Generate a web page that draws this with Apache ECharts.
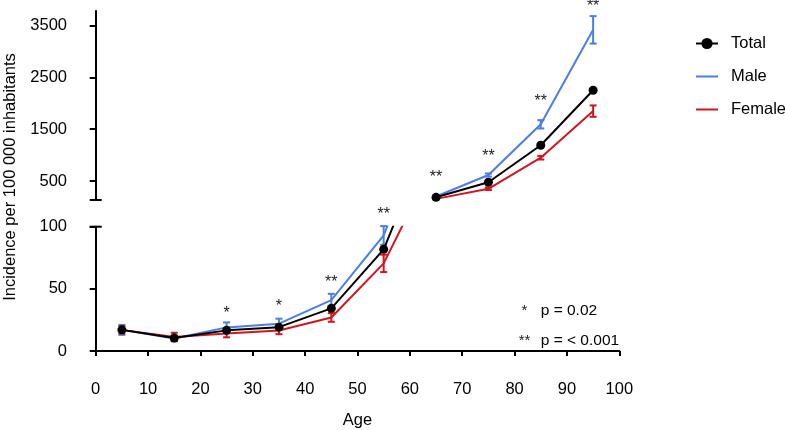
<!DOCTYPE html>
<html><head><meta charset="utf-8">
<script src="https://cdn.jsdelivr.net/npm/echarts@6/dist/echarts.min.js"></script>
<style>html,body{margin:0;padding:0;background:#fff}#c{width:785px;height:430px}</style>
</head><body><div id="c"></div>
<script>
// ---- data ----
const ages = [5, 15, 25, 35, 45, 55, 65, 75, 85, 95];
const totalVals = [17, 10.5, 16.6, 19.2, 34.3, 81.8, 185, 475, 1190, 2252];
const maleVals = [17, 10, 19, 22, 41, 93, 200, 616, 1595, 3420];
const maleErr = [4, 2, 4, 4, 5, 7.5, 15, 30, 80, 265];
const femaleVals = [17, 11.3, 14, 16.5, 27, 70.5, 155, 350, 950, 1850];
const femaleErr = [3, 3.4, 3, 3, 3.5, 7, 12, 25, 35, 110];
const stars = ['', '', '*', '*', '**', '**', '**', '**', '**', '**'];
const starLevel = [null, null, 30, 36, 55, 110, 560, 965, 2025, 3860];
const upperTicks = [500, 1500, 2500, 3500];
const lowerRange = [0, 100];
const upperRange = [133, 3784];
const xRange = [0, 100];
const legendNames = ['Total', 'Male', 'Female'];
const pNotes = [['*', 'p = 0.02'], ['**', 'p = < 0.001']];

// ---- style ----
const FONT = "'Liberation Sans', Arial, sans-serif";
const FS = 16.5;
const BLUE = '#4a7ee8', RED = '#d3151c', BLACK = '#000';

const chart = echarts.init(document.getElementById('c'), null, {renderer: 'canvas'});

const gridL = 95.7, gridR = 785 - 619.3;
const grids = [
  {left: gridL, right: gridR, top: 11, height: 189},
  {left: gridL, right: gridR, top: 226.7, height: 126.6}
];

// upper panel shows only the points that lie above the lower panel's range
function pts(vals, g) {
  return ages.map((a, i) => [a, vals[i]]).filter(p => g === 1 || p[1] > lowerRange[1]);
}
function lineSeries(name, vals, color, g, withSym) {
  return {
    type: 'line', name, xAxisIndex: g, yAxisIndex: g,
    data: pts(vals, g),
    symbol: withSym ? 'circle' : 'none', symbolSize: 9,
    lineStyle: {color, width: 2}, itemStyle: {color},
    clip: true, z: withSym ? 5 : 3, animation: false
  };
}
function inGrid(cs, y) { return y >= cs.y - 0.5 && y <= cs.y + cs.height + 0.5; }
function errSeries(name, vals, errs, color, g) {
  return {
    type: 'custom', name, xAxisIndex: g, yAxisIndex: g,
    data: ages.map((a, i) => [a, vals[i] - errs[i], vals[i] + errs[i], vals[i]]),
    encode: {x: 0, y: [1, 2]},
    renderItem(params, api) {
      const cs = params.coordSys;
      const x = api.value(0);
      const m = api.coord([x, api.value(3)]);
      if (!inGrid(cs, m[1])) return;
      const lo = api.coord([x, api.value(1)]);
      const hi = api.coord([x, api.value(2)]);
      const hw = 3.5;
      const style = {stroke: color, lineWidth: 2, fill: null};
      return {type: 'group', children: [
        {type: 'line', shape: {x1: lo[0], y1: lo[1], x2: hi[0], y2: hi[1]}, style},
        {type: 'line', shape: {x1: lo[0] - hw, y1: lo[1], x2: lo[0] + hw, y2: lo[1]}, style},
        {type: 'line', shape: {x1: hi[0] - hw, y1: hi[1], x2: hi[0] + hw, y2: hi[1]}, style}
      ]};
    },
    z: 4, animation: false
  };
}
function starSeries(g) {
  return {
    type: 'custom', name: 'stars' + g, xAxisIndex: g, yAxisIndex: g,
    data: ages.map((a, i) => [a, starLevel[i] == null ? 0 : starLevel[i], i, maleVals[i]]),
    encode: {x: 0, y: 1},
    renderItem(params, api) {
      const cs = params.coordSys;
      const i = api.value(2);
      const s = stars[i];
      if (!s) return;
      const m = api.coord([api.value(0), api.value(3)]);
      if (!inGrid(cs, m[1])) return;
      const p = api.coord([api.value(0), api.value(1)]);
      return {type: 'text', x: p[0], y: p[1],
        style: {text: s, fill: '#222', font: '16px ' + FONT, align: 'center', verticalAlign: 'middle'}};
    },
    z: 6, animation: false
  };
}

const axisLineStyle = {color: BLACK, width: 2};
const labelStyle = {color: BLACK, fontSize: FS, fontFamily: FONT};
const plain = v => String(v);

const series = [];
[0, 1].forEach(g => {
  series.push(lineSeries('Male', maleVals, BLUE, g, false));
  series.push(lineSeries('Female', femaleVals, RED, g, false));
  series.push(lineSeries('Total', totalVals, BLACK, g, true));
  series.push(errSeries('Male err', maleVals, maleErr, BLUE, g));
  series.push(errSeries('Female err', femaleVals, femaleErr, RED, g));
  series.push(starSeries(g));
});

const hiddenSym = {color: 'rgba(0,0,0,0)', borderWidth: 0, opacity: 0};
const option = {
  animation: false,
  backgroundColor: '#fff',
  grid: grids,
  xAxis: [
    {gridIndex: 0, type: 'value', min: xRange[0], max: xRange[1], show: false},
    {gridIndex: 1, type: 'value', min: xRange[0], max: xRange[1], interval: 10, offset: 20,
     axisLine: {show: true, lineStyle: axisLineStyle},
     axisTick: {show: true, length: 5, lineStyle: axisLineStyle},
     axisLabel: Object.assign({margin: 10, formatter: plain}, labelStyle),
     splitLine: {show: false},
     name: 'Age', nameLocation: 'middle', nameGap: 41,
     nameTextStyle: labelStyle}
  ],
  yAxis: [
    {gridIndex: 0, type: 'value', min: upperRange[0], max: upperRange[1], offset: 20.7,
     axisLine: {show: true, lineStyle: axisLineStyle, symbol: ['rect', 'none'], symbolSize: [12, 2]},
     axisTick: {show: true, length: 6, customValues: upperTicks, lineStyle: axisLineStyle},
     axisLabel: Object.assign({margin: 8, customValues: upperTicks, formatter: plain}, labelStyle),
     splitLine: {show: false}},
    {gridIndex: 1, type: 'value', min: lowerRange[0], max: lowerRange[1], interval: 50, offset: 20.7,
     axisLine: {show: true, lineStyle: axisLineStyle, symbol: ['none', 'rect'], symbolSize: [12, 2]},
     axisTick: {show: true, length: 6, lineStyle: axisLineStyle},
     axisLabel: Object.assign({margin: 8, formatter: plain}, labelStyle),
     splitLine: {show: false}}
  ],
  legend: {
    data: [
      {name: legendNames[0]},
      {name: legendNames[1], itemStyle: hiddenSym},
      {name: legendNames[2], itemStyle: hiddenSym}
    ],
    orient: 'vertical', left: 690, top: 30,
    itemWidth: 22, itemHeight: 14, itemGap: 16,
    textStyle: {color: BLACK, fontSize: FS, fontFamily: FONT, padding: [0, 0, 0, 8]},
    selectedMode: false
  },
  graphic: [
    {type: 'text', x: 10, y: 177, rotation: Math.PI / 2,
     style: {text: 'Incidence per 100 000 inhabitants', fill: BLACK, font: FS + 'px ' + FONT,
             align: 'center', verticalAlign: 'middle'}},
    ...pNotes.flatMap((n, i) => [
      {type: 'text', x: 524.5, y: 311 + i * 30, style: {text: n[0], fill: '#222', font: '15px ' + FONT, align: 'center', verticalAlign: 'middle'}},
      {type: 'text', x: 540.7, y: 311 + i * 30, style: {text: n[1], fill: BLACK, font: '15.5px ' + FONT, align: 'left', verticalAlign: 'middle'}}
    ])
  ],
  series
};
chart.setOption(option);
</script>
</body></html>
